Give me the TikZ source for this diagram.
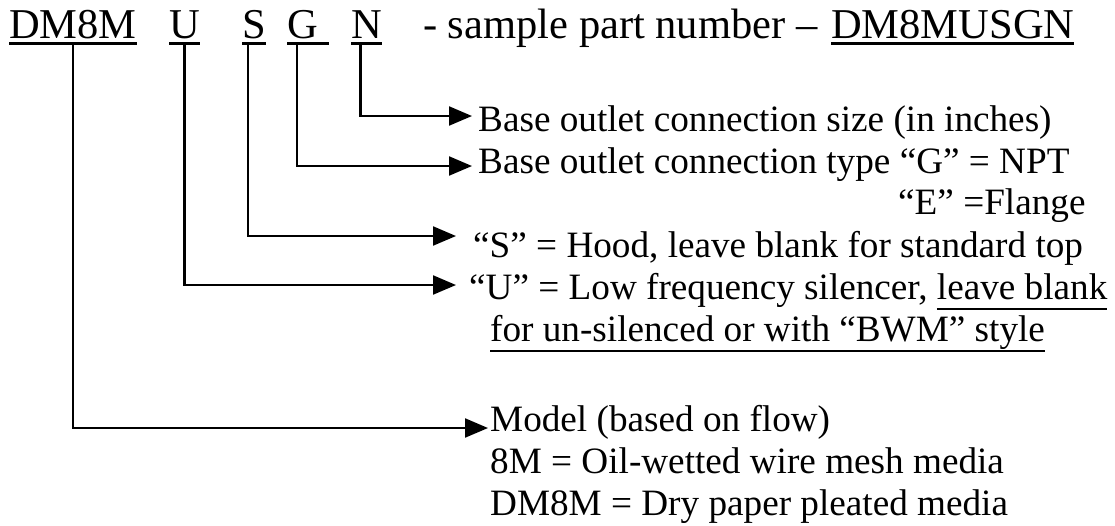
\documentclass[tikz,border=0pt]{standalone}
\usepackage{fontspec}
\setmainfont{Liberation Serif}
\usetikzlibrary{arrows.meta}
\newlength\ulgap
\newlength\ulth
\newcommand\myul[1]{\setbox0\hbox{#1}\rlap{\rule[-\ulgap]{\wd0}{\ulth}}\box0}
\tikzset{
  titletext/.style={font=\fontsize{42.5}{50}\selectfont\setlength\ulgap{7pt}\setlength\ulth{2.8pt}, inner sep=0pt, anchor=base west},
  bodytext/.style={font=\fontsize{37.2}{44}\selectfont\setlength\ulgap{11pt}\setlength\ulth{2.5pt}, inner sep=0pt, anchor=base west},
  arr/.style={line width=2.2pt, -{Triangle[length=23pt,width=19pt]}}
}
\begin{document}
\begin{tikzpicture}[x=1pt,y=-1pt]
\fill[white] (0,0) rectangle (1115,525);
\useasboundingbox (0,0) rectangle (1115,525);
% title line
\node[titletext] (dm8m) at (9,38) {\myul{DM8M}};
\node[titletext] (u) at (169,38) {\myul{U}};
\node[titletext] (s) at (242,38) {\myul{S}};
\node[titletext] (g) at (287,38) {\myul{G\ }};
\node[titletext] (n) at (351,38) {\myul{N}};
\node[titletext] (sample) at (423,38) {- sample part number –};
\node[titletext] (pn) at (831,38) {\myul{DM8MUSGN}};
% descriptions
\node[bodytext] (sizeL) at (478,131) {Base outlet connection size (in inches)};
\node[bodytext] (typeL) at (478,173) {Base outlet connection type “G” = NPT};
\node[bodytext] (flangeL) at (898,214) {“E” =Flange};
\node[bodytext] (hoodL) at (473,257) {“S” = Hood, leave blank for standard top};
\node[bodytext] (silL) at (469,299) {“U” = Low frequency silencer, \myul{leave blank}};
\node[bodytext] (silL2) at (490,341) {\myul{for un-silenced or with “BWM” style}};
\node[bodytext] (modelL) at (490,431) {Model (based on flow)};
\node[bodytext] (modelL2) at (490,473) {8M = Oil-wetted wire mesh media};
\node[bodytext] (modelL3) at (490,515) {DM8M = Dry paper pleated media};
% arrow tips
\coordinate (tipN) at (472,116);
\coordinate (tipG) at (472,166);
\coordinate (tipS) at (456,236);
\coordinate (tipU) at (456,285);
\coordinate (tipM) at (488,428);
% connectors
\draw[arr] ([xshift=-6pt]n.south) |- (tipN);
\draw[arr] ([xshift=-11pt]g.south) |- (tipG);
\draw[arr] ([xshift=-6pt]s.south) |- (tipS);
\draw[arr] (u.south) |- (tipU);
\draw[arr] (dm8m.south) |- (tipM);
\end{tikzpicture}
\end{document}
